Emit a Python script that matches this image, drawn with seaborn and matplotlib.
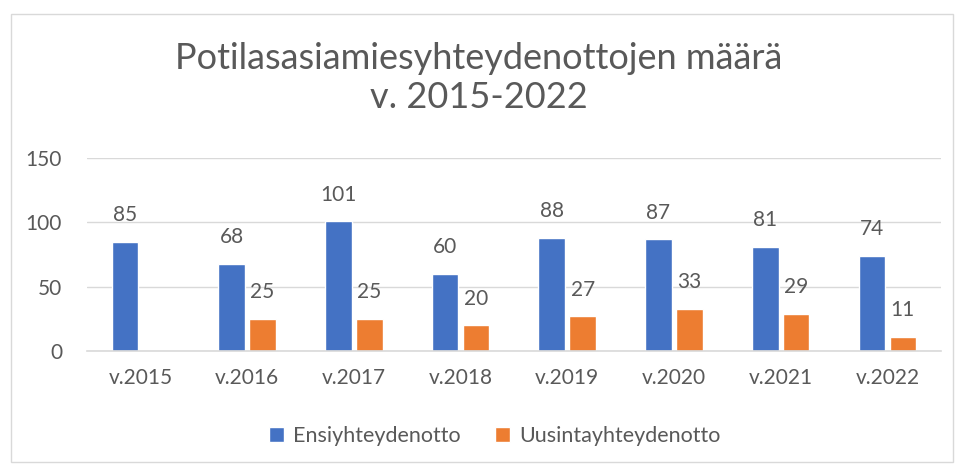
import pandas as pd
import numpy as np
import matplotlib.pyplot as plt
import seaborn as sns
from matplotlib.patches import Rectangle

years = ['v.2015', 'v.2016', 'v.2017', 'v.2018', 'v.2019', 'v.2020', 'v.2021', 'v.2022']
ensi = [85, 68, 101, 60, 88, 87, 81, 74]
uusinta = [np.nan, 25, 25, 20, 27, 33, 29, 11]
series = ['Ensiyhteydenotto', 'Uusintayhteydenotto']
colors = ['#4472C4', '#ED7D31']

df = pd.DataFrame({
    'vuosi': years * 2,
    'sarja': [series[0]] * len(years) + [series[1]] * len(years),
    'arvo': ensi + uusinta,
})

sns.set_style('white')
plt.rcParams['font.family'] = ['Lato', 'DejaVu Sans']
grey = '#595959'

fig = plt.figure(figsize=(9.57, 4.68), dpi=100)
ax = fig.add_axes([0.091, 0.25, 0.892, 0.412])

sns.barplot(data=df, x='vuosi', y='arvo', hue='sarja', palette=colors,
            width=0.58, gap=0.14, ax=ax, legend=True, saturation=1)

for cont in ax.containers:
    labels = ['' if np.isnan(v) else f'{int(v)}' for v in cont.datavalues]
    ax.bar_label(cont, labels=labels, padding=12, fontsize=15, color=grey)

ax.set_ylim(0, 150)
ax.set_xlim(-0.5, 7.5)
ax.set_yticks([0, 50, 100, 150])
ax.yaxis.grid(True, color='#D9D9D9', linewidth=1)
ax.set_axisbelow(True)
for s in ['top', 'right', 'left']:
    ax.spines[s].set_visible(False)
ax.spines['bottom'].set_color('#D9D9D9')
ax.spines['bottom'].set_linewidth(1.2)
ax.tick_params(axis='both', length=0, labelsize=15, labelcolor=grey)
ax.tick_params(axis='x', pad=12)
ax.tick_params(axis='y', pad=18)
ax.set_xlabel('')
ax.set_ylabel('')

handles, labs = ax.get_legend_handles_labels()
ax.legend(handles, labs, loc='center', bbox_to_anchor=(0.517, 0.068),
          bbox_transform=fig.transFigure, ncol=2, frameon=False,
          fontsize=15.5, labelcolor=grey, handlelength=0.7, handleheight=0.7,
          handletextpad=0.4, columnspacing=1.6)

fig.suptitle('Potilasasiamiesyhteydenottojen määrä\nv. 2015-2022', y=0.91,
             fontsize=26, color=grey, fontweight='normal', linespacing=1.2)

fig.patches.append(Rectangle((0.011, 0.012), 0.985, 0.958, transform=fig.transFigure,
                             fill=False, edgecolor='#D9D9D9', linewidth=1))

fig.savefig('out.png', dpi=100)
